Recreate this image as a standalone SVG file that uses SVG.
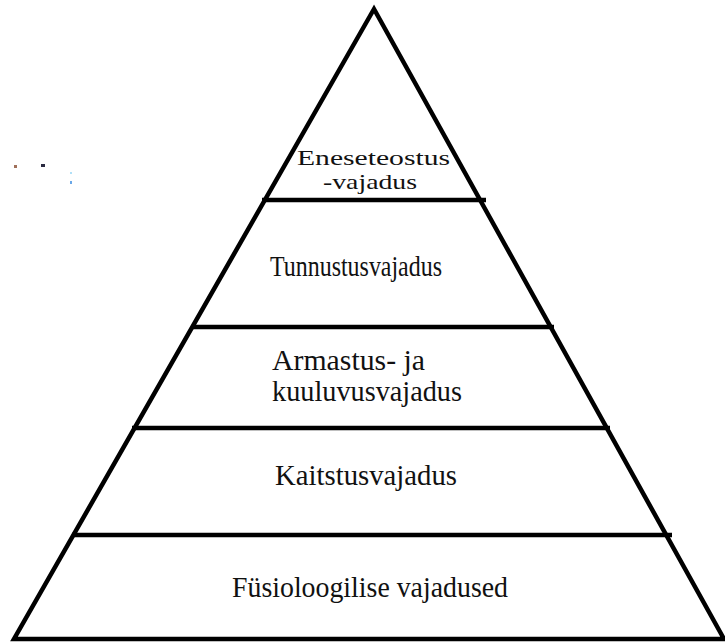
<svg xmlns="http://www.w3.org/2000/svg" width="725" height="644" viewBox="0 0 725 644">
<style>
.edge{fill:none;stroke:#000;stroke-width:4.5;stroke-linejoin:miter;stroke-miterlimit:10}
.div{stroke:#000;stroke-width:4.5}
.lbl{font-size:29px;fill:#111}
.sm{font-size:21px}
</style>
<rect width="725" height="644" fill="#fff"/>
<g id="marks">
<rect x="14" y="165" width="3" height="3" fill="#a0705a"/>
<rect x="41" y="164" width="4" height="3" fill="#2a2a40"/>
<rect x="70" y="172" width="2" height="2" fill="#b0e0f8"/>
<rect x="70" y="181" width="2" height="3" fill="#6aa8e8"/>
</g>
<g id="pyramid">
<polygon class="edge" points="374,9 14,639 724,639"/>
<line class="div" x1="262" y1="200" x2="486" y2="200"/>
<line class="div" x1="193" y1="327" x2="554" y2="327"/>
<line class="div" x1="132" y1="428" x2="610" y2="428"/>
<line class="div" x1="72" y1="535" x2="672" y2="535"/>
</g>
<g font-family="Liberation Serif, Times New Roman, DejaVu Serif, serif">
<g id="level-5">
<text class="lbl sm" x="297" y="165" textLength="153" lengthAdjust="spacingAndGlyphs">Eneseteostus</text>
<text class="lbl sm" x="323" y="189" textLength="94" lengthAdjust="spacingAndGlyphs">-vajadus</text>
</g>
<g id="level-4">
<text class="lbl" x="270" y="276" font-size="26" textLength="172" lengthAdjust="spacingAndGlyphs">Tunnustusvajadus</text>
</g>
<g id="level-3">
<text class="lbl" x="272" y="370" textLength="153" lengthAdjust="spacingAndGlyphs">Armastus- ja</text>
<text class="lbl" x="272" y="401" textLength="190" lengthAdjust="spacingAndGlyphs">kuuluvusvajadus</text>
</g>
<g id="level-2">
<text class="lbl" x="275" y="485" textLength="182" lengthAdjust="spacingAndGlyphs">Kaitstusvajadus</text>
</g>
<g id="level-1">
<text class="lbl" x="232" y="597" textLength="276" lengthAdjust="spacingAndGlyphs">Füsioloogilise vajadused</text>
</g>
</g>
</svg>
